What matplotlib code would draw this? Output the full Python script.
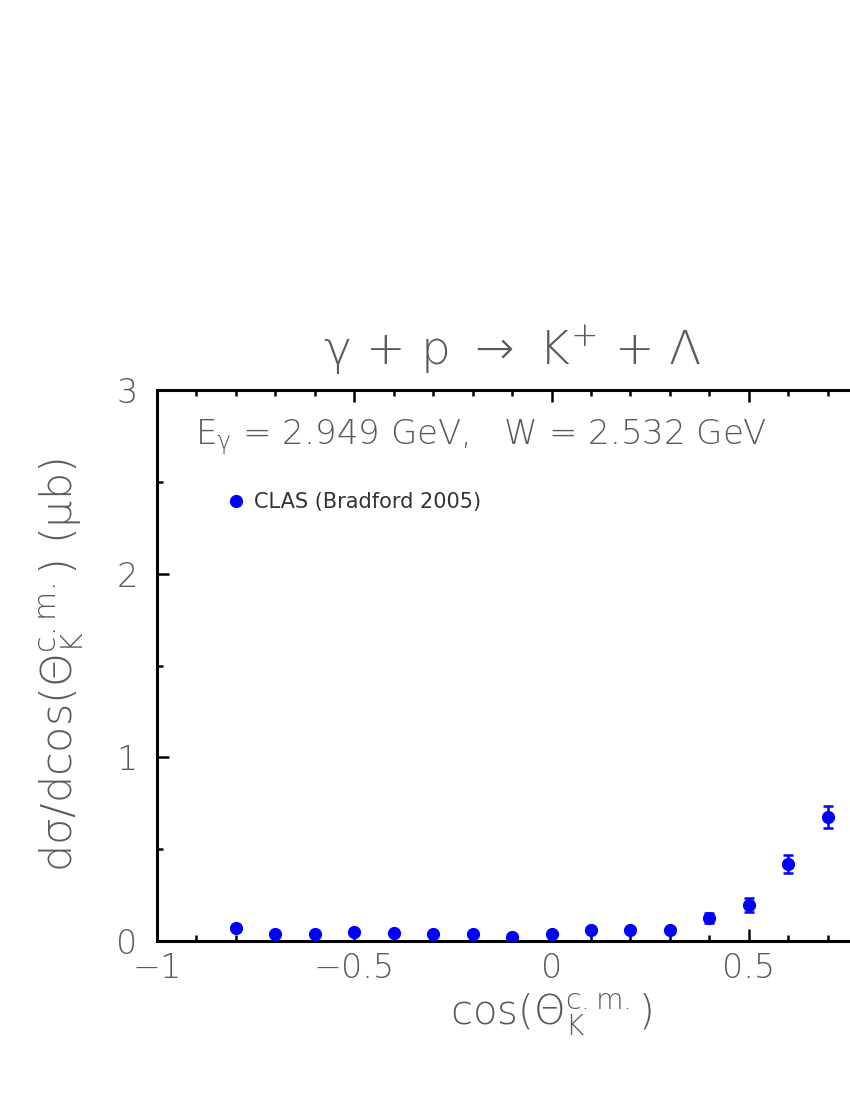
import matplotlib
matplotlib.use("Agg")
import matplotlib.pyplot as plt
from matplotlib.lines import Line2D
from matplotlib.ticker import MultipleLocator

# CLAS data (Bradford 2005), E_gamma = 2.949 GeV
cos_theta = [-0.8, -0.7, -0.6, -0.5, -0.4, -0.3, -0.2, -0.1, 0.0, 0.1, 0.2, 0.3, 0.4, 0.5, 0.6, 0.7]
dsigma = [0.073, 0.036, 0.040, 0.051, 0.042, 0.036, 0.038, 0.024, 0.036, 0.060, 0.062, 0.060,
          0.124, 0.194, 0.418, 0.675]
dsigma_err = [0.008, 0.006, 0.006, 0.007, 0.006, 0.006, 0.006, 0.005, 0.006, 0.008, 0.008, 0.008,
              0.027, 0.038, 0.049, 0.060]

xtick_vals = [-1, -0.5, 0, 0.5]
xtick_labels = ['\u22121', '\u22120.5', '0', '0.5']
ytick_vals = [0, 1, 2, 3]
ytick_labels = ['0', '1', '2', '3']

plt.rcParams['font.family'] = 'DejaVu Sans'
plt.rcParams['mathtext.fontset'] = 'custom'
plt.rcParams['mathtext.rm'] = 'DejaVu Sans:weight=200'
plt.rcParams['mathtext.it'] = 'DejaVu Sans:weight=200:italic'
plt.rcParams['mathtext.sf'] = 'DejaVu Sans:weight=200'
plt.rcParams['mathtext.default'] = 'rm'

txt_col = '#5a5a5a'
fw = 200

fig = plt.figure(figsize=(8.5, 11), dpi=100)
# axes runs past the right edge of the page, as in the original
ax = fig.add_axes([157 / 850, 159 / 1100, 789 / 850, 551 / 1100])

ax.errorbar(cos_theta, dsigma, yerr=dsigma_err, fmt='o', color='#0000ff', ms=8.5,
            elinewidth=1.8, capsize=3.5, capthick=1.8, zorder=3)

ax.set_xlim(-1, 1)
ax.set_ylim(0, 3)
ax.xaxis.set_minor_locator(MultipleLocator(0.1))
ax.yaxis.set_minor_locator(MultipleLocator(0.5))
ax.set_xticks(xtick_vals)
ax.set_xticklabels(xtick_labels, fontweight=fw)
ax.set_yticks(ytick_vals)
ax.set_yticklabels(ytick_labels, fontweight=fw)
ax.tick_params(which='both', direction='in', top=True, right=True, width=1.8, colors='black',
               labelcolor=txt_col, labelsize=24)
ax.tick_params(axis='x', pad=8)
ax.tick_params(axis='y', pad=14)
ax.tick_params(which='major', length=8.5)
ax.tick_params(which='minor', length=4.5)
for s in ax.spines.values():
    s.set_linewidth(2.2)

ax.set_xlabel(r'cos($\Theta_{\mathrm{K}}^{c.m.}$)', fontsize=29, color=txt_col, fontweight=fw,
              labelpad=4)
ax.set_ylabel(r'd$\sigma$/dcos($\Theta_{\mathrm{K}}^{c.m.}$) ($\mu$b)', fontsize=31, color=txt_col,
              fontweight=fw, labelpad=22)

fig.text(512 / 850, 1 - 351 / 1100, r'$\gamma$ + p $\rightarrow$ K$^{+}$ + $\Lambda$', fontsize=34,
         color=txt_col, fontweight=fw, ha='center', va='center')

fig.text(195 / 850, 1 - 437 / 1100, r'E$_{\gamma}$ = 2.949 GeV,   W = 2.532 GeV', fontsize=24.5,
         color=txt_col, fontweight=fw, ha='left', va='center')

handle = Line2D([], [], ls='none', marker='o', color='#0000ff', ms=8.5)
leg = ax.legend([handle], ['CLAS (Bradford 2005)'], loc='center left',
                bbox_to_anchor=(0.089, 0.797), frameon=False, handlelength=0.8,
                handletextpad=0.5, borderpad=0, borderaxespad=0, prop={'size': 15})
for t in leg.get_texts():
    t.set_color('#333333')

fig.savefig('out.png', dpi=100)
